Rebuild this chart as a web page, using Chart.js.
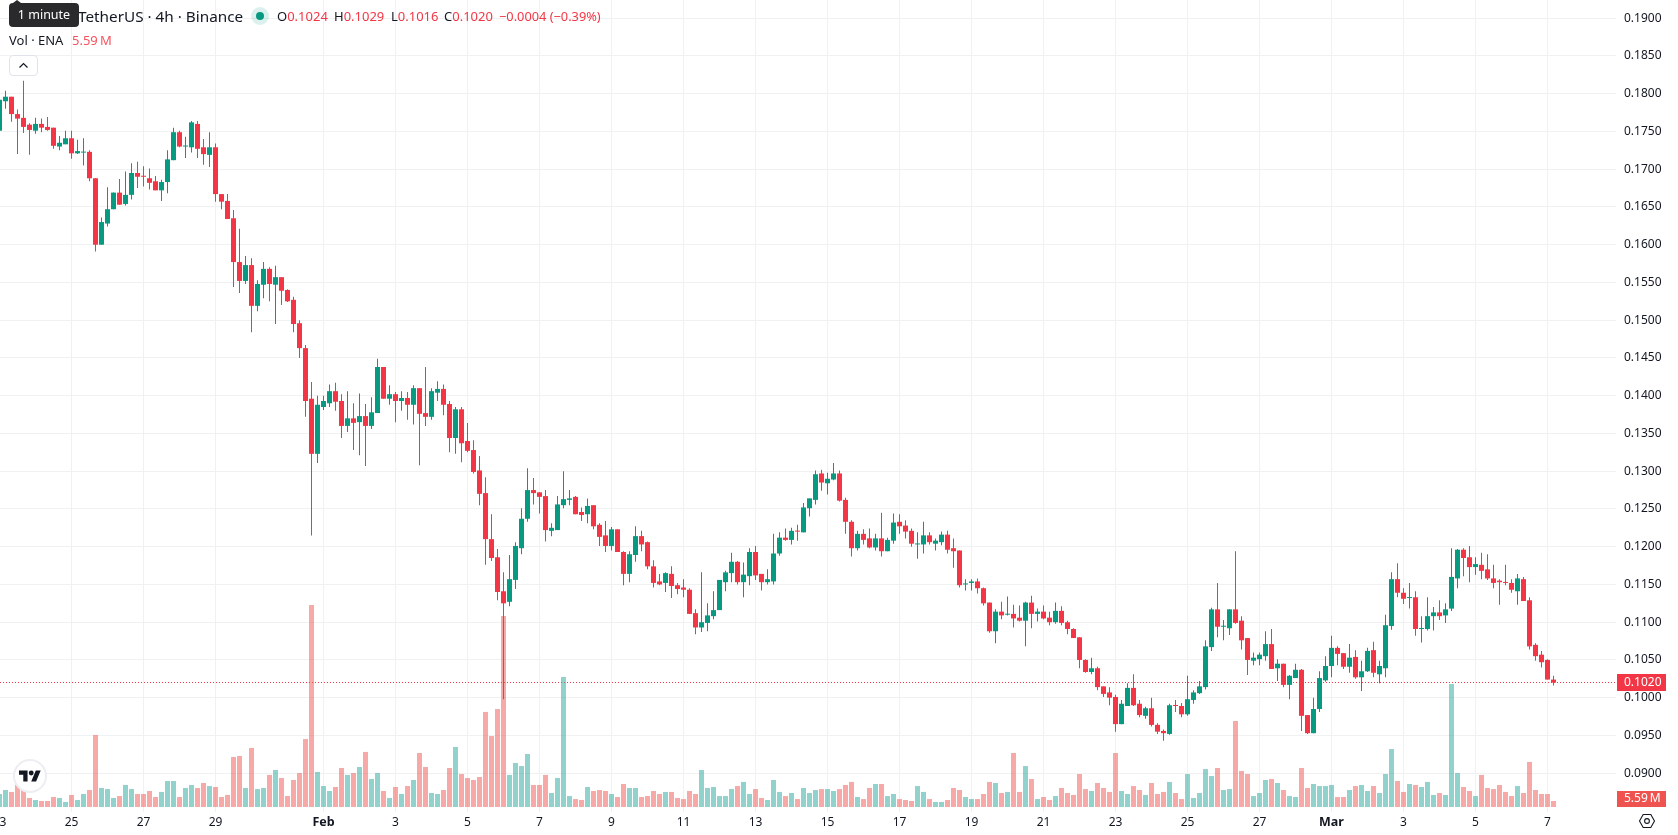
<!DOCTYPE html>
<html>
<head>
<meta charset="utf-8">
<title>ENA / TetherUS 4h</title>
<script src="https://cdn.jsdelivr.net/npm/chart.js@4/dist/chart.umd.min.js"></script>
<style>
    html, body { margin: 0; padding: 0; background: #fff; }
    #wrap { position: relative; width: 1678px; height: 835px; overflow: hidden; font-family: "Noto Sans", sans-serif; color: #131722; }
    canvas { position: absolute; left: 0; top: 0; }
    .txt { position: absolute; white-space: nowrap; line-height: 16px; }
    .red { color: #f23645; }
    .pair { left: 78px; top: 8px; font-size: 15.3px; }
    .ohlc { top: 8px; font-size: 13px; }
    .tip { position: absolute; left: 9px; top: 3px; width: 70px; height: 24px; border-radius: 4px; background: #2a2a2c; color: #fff; font-size: 12.5px; line-height: 24px; text-align: center; }
    .tip:before { content: ""; position: absolute; left: 4px; top: -3px; border-left: 4px solid transparent; border-right: 4px solid transparent; border-bottom: 3px solid #2a2a2c; }
    .halo { position: absolute; left: 251px; top: 7px; width: 18px; height: 18px; border-radius: 50%; background: rgba(8, 153, 129, 0.14); }
    .dot { position: absolute; left: 256px; top: 12px; width: 8px; height: 8px; border-radius: 50%; background: #089981; }
    .toggle { position: absolute; left: 9px; top: 55px; width: 27px; height: 19px; border: 1px solid #e0e3eb; border-radius: 4px; background: #fff; }
    .logo { position: absolute; left: 13px; top: 759px; width: 30px; height: 30px; border: 2px solid #eceef2; border-radius: 50%; background: #fff; }
</style>
</head>
<body>
<div id="wrap">
    <canvas id="chart" width="1678" height="835"></canvas>
    <div class="txt pair">TetherUS · 4h · Binance</div>
    <div class="tip">1 minute</div>
    <div class="halo"></div>
    <div class="dot"></div>
    <div class="txt ohlc" style="left:277px">O<span class="red">0.1024</span></div>
    <div class="txt ohlc" style="left:334px">H<span class="red">0.1029</span></div>
    <div class="txt ohlc" style="left:391px">L<span class="red">0.1016</span></div>
    <div class="txt ohlc" style="left:444px">C<span class="red">0.1020</span></div>
    <div class="txt ohlc red" style="left:499px;font-size:12.8px">−0.0004 (−0.39%)</div>
    <div class="txt" style="left:9px;top:32px;font-size:13px">Vol · ENA</div>
    <div class="txt" style="left:72px;top:32px;font-size:13px;color:#f7525f">5.59&#8201;M</div>
    <div class="toggle">
        <svg width="27" height="19" viewBox="0 0 27 19"><path d="M9.5 11.5 L13.5 7.5 L17.5 11.5" fill="none" stroke="#131722" stroke-width="1.2"/></svg>
    </div>
    <div class="logo">
        <svg style="position:absolute;left:4px;top:9px" width="22" height="12" viewBox="0 4 36 18"><path d="M14 22H7V11H0V4h14v18zM28 22h-8l7.5-18h8L28 22z" fill="#131722"/><circle cx="20" cy="8" r="4" fill="#131722"/></svg>
    </div>
    <svg style="position:absolute;left:1638px;top:812px" width="18" height="18" viewBox="0 0 18 18">
        <path d="M5.2 2.5 H12.8 L16.5 9 L12.8 15.5 H5.2 L1.5 9 Z" fill="none" stroke="#131722" stroke-width="1.1"/>
        <circle cx="9" cy="9" r="2.4" fill="none" stroke="#131722" stroke-width="1.1"/>
    </svg>
</div>
<script>
// 4h candles, one row of ten per line, starting Jan 23 00:00
const opens = [
    .1751, .1790, .1796, .1773, .1768, .1759, .1751, .1760, .1756, .1755,
    .1730, .1733, .1741, .1721, .1722, .1723, .1688, .1600, .1628, .1647,
    .1669, .1654, .1666, .1695, .1691, .1688, .1684, .1672, .1683, .1712,
    .1749, .1730, .1729, .1760, .1729, .1719, .1729, .1667, .1658, .1635,
    .1577, .1552, .1573, .1519, .1547, .1568, .1547, .1557, .1540, .1527,
    .1496, .1463, .1396, .1323, .1385, .1390, .1406, .1393, .1360, .1370,
    .1365, .1373, .1360, .1377, .1438, .1396, .1402, .1393, .1397, .1388,
    .1410, .1377, .1372, .1404, .1409, .1389, .1344, .1382, .1340, .1328,
    .1301, .1271, .1210, .1186, .1141, .1127, .1156, .1198, .1237, .1275,
    .1272, .1267, .1221, .1222, .1255, .1262, .1266, .1246, .1243, .1255,
    .1229, .1215, .1201, .1223, .1193, .1164, .1189, .1214, .1206, .1174,
    .1154, .1152, .1164, .1149, .1146, .1143, .1112, .1093, .1099, .1108,
    .1116, .1153, .1165, .1180, .1153, .1161, .1193, .1164, .1153, .1154,
    .1191, .1212, .1209, .1221, .1219, .1251, .1262, .1297, .1284, .1289,
    .1297, .1262, .1233, .1198, .1217, .1211, .1199, .1211, .1194, .1208,
    .1233, .1228, .1221, .1203, .1203, .1215, .1204, .1206, .1216, .1198,
    .1195, .1150, .1152, .1154, .1145, .1126, .1088, .1114, .1110, .1111,
    .1106, .1102, .1126, .1111, .1114, .1106, .1100, .1115, .1100, .1091,
    .1080, .1050, .1034, .1039, .1015, .1007, .1001, .0965, .0989, .1013,
    .0992, .0976, .0986, .0964, .0956, .0952, .0990, .0989, .0978, .0997,
    .1006, .1014, .1067, .1117, .1094, .1092, .1117, .1102, .1079, .1049,
    .1051, .1055, .1071, .1039, .1045, .1017, .1026, .1037, .0977, .0953,
    .0985, .1023, .1042, .1066, .1059, .1041, .1054, .1027, .1035, .1063,
    .1031, .1039, .1095, .1157, .1139, .1132, .1133, .1091, .1091, .1108,
    .1113, .1109, .1118, .1158, .1196, .1186, .1173, .1176, .1170, .1158,
    .1155, .1153, .1152, .1141, .1157, .1129, .1070, .1057, .1050, .1024
];
const highs = [
    .1794, .1804, .1796, .1779, .1817, .1761, .1768, .1767, .1769, .1755,
    .1744, .1751, .1751, .1739, .1741, .1725, .1688, .1636, .1676, .1669,
    .1687, .1697, .1708, .1710, .1704, .1701, .1691, .1686, .1725, .1755,
    .1751, .1743, .1764, .1764, .1740, .1749, .1734, .1667, .1667, .1646,
    .1621, .1585, .1582, .1553, .1577, .1570, .1572, .1557, .1541, .1531,
    .1500, .1467, .1418, .1400, .1400, .1415, .1417, .1402, .1406, .1390,
    .1403, .1389, .1398, .1449, .1438, .1414, .1405, .1406, .1405, .1414,
    .1410, .1438, .1410, .1419, .1415, .1393, .1385, .1385, .1364, .1341,
    .1320, .1292, .1243, .1197, .1166, .1189, .1206, .1251, .1304, .1291,
    .1272, .1275, .1231, .1267, .1300, .1275, .1267, .1252, .1264, .1255,
    .1231, .1234, .1226, .1223, .1194, .1194, .1227, .1221, .1207, .1182,
    .1164, .1166, .1174, .1152, .1157, .1145, .1117, .1166, .1125, .1141,
    .1156, .1168, .1192, .1181, .1179, .1198, .1201, .1164, .1170, .1217,
    .1219, .1224, .1225, .1229, .1258, .1264, .1301, .1302, .1298, .1311,
    .1301, .1265, .1235, .1221, .1223, .1224, .1217, .1245, .1212, .1244,
    .1243, .1235, .1224, .1219, .1233, .1219, .1211, .1220, .1221, .1211,
    .1195, .1157, .1157, .1158, .1146, .1126, .1117, .1127, .1134, .1123,
    .1122, .1127, .1135, .1118, .1122, .1114, .1126, .1121, .1102, .1092,
    .1080, .1051, .1053, .1041, .1015, .1014, .1004, .0997, .1019, .1031,
    .0997, .0988, .1000, .0966, .0958, .0992, .0997, .0993, .1029, .1010,
    .1022, .1076, .1119, .1152, .1103, .1117, .1194, .1108, .1079, .1060,
    .1060, .1088, .1091, .1051, .1045, .1030, .1045, .1038, .0977, .1000,
    .1035, .1055, .1082, .1068, .1059, .1071, .1063, .1049, .1066, .1074,
    .1049, .1110, .1166, .1178, .1145, .1152, .1141, .1108, .1133, .1120,
    .1129, .1125, .1198, .1197, .1198, .1201, .1186, .1192, .1190, .1176,
    .1157, .1176, .1157, .1164, .1160, .1133, .1072, .1062, .1051, .1029
];
const lows = [
    .1751, .1780, .1763, .1720, .1748, .1719, .1747, .1749, .1751, .1727,
    .1725, .1733, .1714, .1720, .1705, .1684, .1591, .1600, .1624, .1647,
    .1653, .1652, .1660, .1675, .1677, .1673, .1672, .1658, .1668, .1712,
    .1729, .1715, .1722, .1715, .1706, .1703, .1657, .1647, .1634, .1544,
    .1536, .1548, .1484, .1512, .1529, .1525, .1495, .1520, .1524, .1484,
    .1450, .1372, .1215, .1311, .1381, .1385, .1380, .1344, .1352, .1328,
    .1321, .1307, .1356, .1377, .1396, .1388, .1365, .1380, .1368, .1362,
    .1308, .1360, .1368, .1393, .1374, .1325, .1323, .1312, .1325, .1297,
    .1255, .1176, .1181, .1129, .0998, .1121, .1144, .1190, .1233, .1256,
    .1244, .1207, .1214, .1222, .1251, .1255, .1243, .1234, .1231, .1223,
    .1201, .1193, .1195, .1193, .1149, .1153, .1180, .1194, .1170, .1146,
    .1149, .1140, .1132, .1137, .1133, .1111, .1084, .1087, .1088, .1104,
    .1116, .1141, .1153, .1150, .1133, .1149, .1156, .1142, .1150, .1150,
    .1188, .1208, .1203, .1208, .1219, .1240, .1256, .1274, .1269, .1288,
    .1260, .1217, .1187, .1195, .1203, .1198, .1195, .1187, .1194, .1204,
    .1217, .1211, .1200, .1184, .1191, .1203, .1195, .1202, .1191, .1172,
    .1146, .1142, .1142, .1138, .1122, .1086, .1072, .1104, .1109, .1093,
    .1101, .1068, .1092, .1101, .1104, .1096, .1098, .1096, .1084, .1079,
    .1039, .1033, .1031, .1010, .1001, .0990, .0955, .0965, .0989, .0989,
    .0974, .0972, .0962, .0952, .0943, .0951, .0981, .0974, .0976, .0992,
    .1005, .1011, .1062, .1080, .1076, .1083, .1098, .1064, .1030, .1043,
    .1043, .1049, .1038, .1022, .1014, .0998, .1026, .0956, .0952, .0953,
    .0981, .1021, .1027, .1043, .1038, .1033, .1025, .1009, .1034, .1027,
    .1019, .1027, .1090, .1133, .1124, .1118, .1082, .1073, .1089, .1089,
    .1103, .1099, .1115, .1145, .1161, .1153, .1163, .1157, .1156, .1145,
    .1123, .1149, .1139, .1123, .1128, .1064, .1049, .1040, .1024, .1016
];
const closes = [
    .1792, .1796, .1773, .1767, .1756, .1752, .1760, .1755, .1752, .1731,
    .1735, .1741, .1721, .1724, .1723, .1688, .1600, .1630, .1647, .1669,
    .1653, .1666, .1695, .1690, .1690, .1682, .1672, .1683, .1713, .1749,
    .1730, .1731, .1762, .1727, .1720, .1729, .1667, .1657, .1634, .1577,
    .1552, .1573, .1519, .1548, .1568, .1548, .1557, .1539, .1525, .1495,
    .1463, .1393, .1323, .1388, .1393, .1406, .1392, .1360, .1370, .1364,
    .1373, .1360, .1378, .1438, .1396, .1402, .1393, .1397, .1388, .1410,
    .1376, .1372, .1406, .1409, .1388, .1344, .1382, .1337, .1327, .1299,
    .1270, .1210, .1185, .1140, .1125, .1157, .1201, .1237, .1275, .1271,
    .1266, .1222, .1225, .1256, .1263, .1264, .1243, .1242, .1254, .1227,
    .1213, .1201, .1223, .1193, .1164, .1190, .1214, .1203, .1174, .1152,
    .1150, .1165, .1148, .1144, .1143, .1111, .1093, .1100, .1109, .1116,
    .1156, .1166, .1180, .1153, .1163, .1193, .1162, .1153, .1157, .1191,
    .1212, .1209, .1221, .1220, .1252, .1264, .1296, .1285, .1290, .1297,
    .1261, .1233, .1198, .1217, .1209, .1199, .1211, .1194, .1209, .1232,
    .1227, .1220, .1204, .1204, .1215, .1206, .1208, .1216, .1196, .1194,
    .1149, .1151, .1154, .1145, .1125, .1088, .1114, .1109, .1111, .1105,
    .1102, .1126, .1111, .1114, .1105, .1100, .1115, .1099, .1091, .1079,
    .1050, .1034, .1039, .1014, .1005, .1000, .0965, .0992, .1013, .0990,
    .0977, .0986, .0964, .0955, .0953, .0990, .0989, .0978, .0998, .1007,
    .1015, .1068, .1117, .1094, .1095, .1117, .1099, .1076, .1050, .1053,
    .1057, .1071, .1038, .1045, .1017, .1029, .1037, .0976, .0953, .0985,
    .1026, .1042, .1066, .1058, .1041, .1053, .1027, .1035, .1062, .1033,
    .1042, .1096, .1157, .1139, .1131, .1133, .1091, .1092, .1108, .1113,
    .1108, .1117, .1160, .1196, .1185, .1173, .1177, .1168, .1158, .1152,
    .1153, .1152, .1143, .1158, .1128, .1068, .1055, .1047, .1024, .1020
];
// Volume in millions of ENA
const volumes = [
    12.1, 15.8, 14.0, 20.5, 15.8, 8.4, 6.5, 5.6, 5.6, 9.3,
    8.4, 4.7, 11.2, 6.5, 12.1, 15.8, 67.0, 17.7, 16.7, 8.4,
    10.2, 20.5, 16.7, 12.1, 12.1, 14.9, 9.3, 14.0, 24.2, 24.2,
    9.3, 17.7, 20.5, 17.7, 22.3, 19.5, 18.6, 9.3, 11.2, 46.5,
    47.4, 17.7, 54.9, 16.7, 17.7, 29.8, 34.4, 27.0, 10.2, 25.1,
    31.6, 63.2, 187.9, 32.6, 19.5, 14.9, 18.6, 36.3, 29.8, 31.6,
    37.2, 51.2, 26.0, 31.6, 14.9, 8.4, 18.6, 12.1, 19.5, 25.1,
    50.2, 37.2, 13.0, 12.1, 15.8, 36.3, 55.8, 30.7, 27.0, 25.1,
    27.9, 88.4, 66.0, 91.1, 177.6, 29.8, 40.9, 38.1, 49.3, 20.5,
    20.5, 29.8, 13.0, 27.0, 120.9, 10.2, 7.4, 6.5, 18.6, 14.9,
    15.8, 14.9, 12.1, 9.3, 21.4, 17.7, 17.7, 9.3, 10.2, 14.9,
    12.1, 14.0, 14.0, 8.4, 7.4, 14.9, 12.1, 34.4, 17.7, 18.6,
    10.2, 10.2, 16.7, 19.5, 23.3, 12.1, 16.7, 8.4, 6.5, 25.1,
    14.0, 10.2, 13.0, 7.4, 17.7, 13.0, 15.8, 16.7, 16.7, 14.9,
    16.7, 20.5, 23.3, 9.3, 7.4, 17.7, 21.4, 21.4, 10.2, 12.1,
    7.4, 6.5, 5.6, 19.5, 14.0, 7.4, 4.7, 4.7, 6.5, 17.7,
    15.8, 9.3, 7.4, 7.4, 12.1, 23.3, 22.3, 13.0, 14.0, 50.2,
    14.0, 38.1, 26.0, 7.4, 9.3, 6.5, 10.2, 17.7, 13.0, 11.2,
    30.7, 16.7, 14.9, 22.3, 17.7, 14.0, 50.2, 14.9, 12.1, 19.5,
    15.8, 11.2, 22.3, 12.1, 14.0, 23.3, 13.0, 7.4, 30.7, 8.4,
    13.0, 35.3, 28.8, 36.3, 15.8, 16.7, 80.0, 33.5, 30.7, 10.2,
    13.0, 25.1, 26.0, 22.3, 15.8, 10.2, 9.3, 36.3, 17.7, 21.4,
    19.5, 19.5, 20.5, 9.3, 9.3, 15.8, 19.5, 20.5, 14.9, 19.5,
    13.0, 30.7, 53.9, 24.2, 14.0, 21.4, 20.5, 18.6, 23.3, 11.2,
    13.0, 11.2, 114.4, 31.6, 18.6, 14.9, 10.2, 29.8, 17.7, 16.7,
    20.5, 14.0, 10.2, 19.5, 13.0, 41.9, 15.8, 12.1, 12.1, 5.59
];

const dateTickIndex = [0, 12, 24, 36, 54, 66, 78, 90, 102, 114, 126, 138, 150, 162, 174, 186, 198, 210, 222, 234, 246, 258];
const dateTickLabels = ['23', '25', '27', '29', 'Feb', '3', '5', '7', '9', '11', '13', '15', '17', '19', '21', '23', '25', '27', 'Mar', '3', '5', '7'];
const priceTicks = [.09, .095, .10, .105, .11, .115, .12, .125, .13, .135, .14, .145, .15, .155, .16, .165, .17, .175, .18, .185, .19];

const lastClose = 0.1020;
const lastVolumeText = '5.59\u2009M';

const UP = '#089981';
const DOWN = '#f23645';
const UP_VOL = 'rgba(38, 166, 154, 0.5)';
const DOWN_VOL = 'rgba(239, 83, 80, 0.5)';
const GRID = '#f0f1f3';
const FONT = '"Noto Sans", sans-serif';

const isUp = closes.map((c, i) => c >= opens[i]);

// Current price line under the candles, price and volume tags on the axis
const lastValuePlugin = {
    id: 'lastValue',
    beforeDatasetsDraw(chart) {
        const ctx = chart.ctx;
        const y = Math.floor(chart.scales.y.getPixelForValue(lastClose)) + 0.5;
        ctx.save();
        ctx.strokeStyle = DOWN;
        ctx.lineWidth = 1;
        ctx.setLineDash([1, 2]);
        ctx.beginPath();
        ctx.moveTo(chart.chartArea.left, y);
        ctx.lineTo(chart.chartArea.right, y);
        ctx.stroke();
        ctx.restore();
    },
    afterDraw(chart) {
        const ctx = chart.ctx;
        const left = chart.chartArea.right + 1;
        const priceY = chart.scales.y.getPixelForValue(lastClose);
        const volBottom = chart.scales.yVol.getPixelForValue(0);
        ctx.save();
        ctx.font = '12px ' + FONT;
        ctx.textBaseline = 'middle';
        ctx.fillStyle = DOWN;
        ctx.fillRect(left, Math.round(priceY) - 9, 49, 17);
        ctx.fillStyle = '#fff';
        ctx.fillText(lastClose.toFixed(4), left + 7, priceY);
        ctx.fillStyle = '#ef5350';
        ctx.fillRect(left, volBottom - 16, 49, 16);
        ctx.fillStyle = '#fff';
        ctx.fillText(lastVolumeText, left + 7, volBottom - 8);
        ctx.restore();
    }
};

function renderChart() {
    const ctx = document.getElementById('chart').getContext('2d');
    const xs = opens.map((_, i) => i);

    new Chart(ctx, {
        type: 'bar',
        data: {
            datasets: [
                {
                    label: 'Body',
                    order: 1,
                    grouped: false,
                    barThickness: 5,
                    inflateAmount: 0,
                    minBarLength: 1,
                    data: xs.map(i => ({ x: i, y: [opens[i], closes[i]] })),
                    backgroundColor: xs.map(i => isUp[i] ? UP : DOWN),
                    yAxisID: 'y'
                },
                {
                    label: 'Wick',
                    order: 2,
                    grouped: false,
                    barThickness: 1,
                    inflateAmount: 0,
                    data: xs.map(i => ({ x: i, y: [lows[i], highs[i]] })),
                    backgroundColor: xs.map(i => isUp[i] ? UP : DOWN),
                    yAxisID: 'y'
                },
                {
                    label: 'Vol',
                    order: 3,
                    grouped: false,
                    barThickness: 5,
                    inflateAmount: 0,
                    data: xs.map(i => ({ x: i, y: volumes[i] })),
                    backgroundColor: xs.map(i => isUp[i] ? UP_VOL : DOWN_VOL),
                    yAxisID: 'yVol'
                }
            ]
        },
        options: {
            responsive: false,
            animation: false,
            layout: { padding: 0 },
            plugins: { legend: { display: false }, tooltip: { enabled: false } },
            scales: {
                x: {
                    type: 'linear',
                    offset: false,
                    // 6px per candle across the 1616px plot
                    min: 1 / 12,
                    max: 1 / 12 + 1616 / 6,
                    afterBuildTicks: scale => {
                        scale.ticks = dateTickIndex.map(v => ({ value: v }));
                    },
                    afterFit: scale => {
                        scale.height = 23;
                        scale.paddingLeft = 0;
                        scale.paddingRight = 0;
                    },
                    grid: { color: GRID, drawTicks: false, offset: false },
                    border: { display: false },
                    ticks: {
                        autoSkip: false,
                        maxRotation: 0,
                        padding: 3,
                        color: '#131722',
                        font: c => {
                            const bold = dateTickLabels[c.index] === 'Feb' || dateTickLabels[c.index] === 'Mar';
                            return { family: FONT, size: bold ? 12.5 : 12, weight: bold ? 'bold' : 'normal' };
                        },
                        callback: value => dateTickLabels[dateTickIndex.indexOf(value)]
                    }
                },
                y: {
                    position: 'right',
                    min: 0.084861,
                    max: 0.192411,
                    afterBuildTicks: scale => {
                        scale.ticks = priceTicks.map(v => ({ value: v }));
                    },
                    afterFit: scale => {
                        scale.width = 62;
                        scale.paddingTop = 0;
                        scale.paddingBottom = 0;
                    },
                    grid: { color: GRID, drawTicks: false },
                    border: { display: false },
                    ticks: {
                        padding: 8,
                        color: '#131722',
                        font: { family: FONT, size: 12 },
                        callback: value => value.toFixed(4)
                    }
                },
                yVol: {
                    display: false,
                    min: -4.65,
                    max: 750.51
                }
            }
        },
        plugins: [lastValuePlugin]
    });
}

renderChart();
</script>
</body>
</html>
